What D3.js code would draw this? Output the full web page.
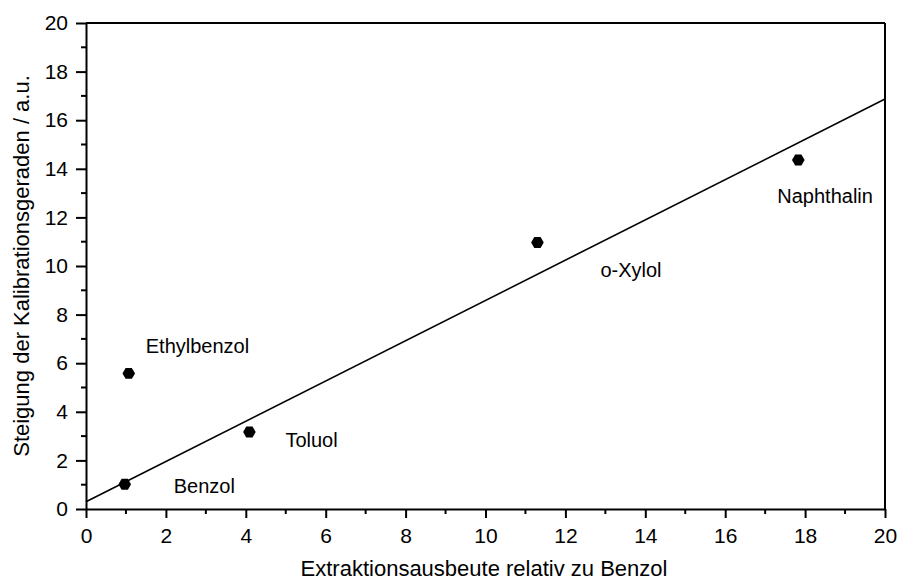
<!DOCTYPE html>
<html>
<head>
<meta charset="utf-8">
<script src="https://cdn.jsdelivr.net/npm/d3@7"></script>
<style>
  html, body { margin: 0; padding: 0; background: #fff; }
  svg { display: block; font-family: "Liberation Sans", Arial, sans-serif; }
</style>
</head>
<body>
<svg id="chart" width="897" height="582"></svg>
<script>
// ---- data ----
const compounds = ["Benzol", "Ethylbenzol", "Toluol", "o-Xylol", "Naphthalin"];
const extraction = [0.97, 1.07, 4.09, 11.3, 17.83];
const slope = [1.02, 5.58, 3.17, 10.97, 14.36];
const fitX = [0, 20];
const fitY = [0.3, 16.87];
const xTicks = [0, 2, 4, 6, 8, 10, 12, 14, 16, 18, 20];
const yTicks = [0, 2, 4, 6, 8, 10, 12, 14, 16, 18, 20];
const xTitle = "Extraktionsausbeute relativ zu Benzol";
const yTitle = "Steigung der Kalibrationsgeraden / a.u.";

// label placement offsets (pixels, relative to point)
const labelOffsets = {
  "Benzol": [49, 9],
  "Ethylbenzol": [17, -20],
  "Toluol": [36, 15],
  "o-Xylol": [63, 35],
  "Naphthalin": [-21, 43]
};

const svg = d3.select("#chart");
const mLeft = 86, mRight = 885, mTop = 23, mBottom = 509;

const x = d3.scaleLinear().domain([0, 20]).range([mLeft, mRight]);
const y = d3.scaleLinear().domain([0, 20]).range([mBottom, mTop]);

const fs = 21;

// frame top/right
svg.append("line").attr("x1", mLeft).attr("x2", mRight).attr("y1", mTop).attr("y2", mTop)
  .attr("stroke", "#000").attr("stroke-width", 2);
svg.append("line").attr("x1", mRight).attr("x2", mRight).attr("y1", mTop).attr("y2", mBottom)
  .attr("stroke", "#000").attr("stroke-width", 2);

// x axis
const gx = svg.append("g").attr("transform", `translate(0,${mBottom})`)
  .call(d3.axisBottom(x).tickValues(xTicks).tickFormat(d3.format("d")).tickSize(9).tickPadding(10).tickSizeOuter(0));
gx.append("g").selectAll("line").data(d3.range(1, 20, 2)).join("line")
  .attr("x1", d => x(d)).attr("x2", d => x(d)).attr("y1", 0).attr("y2", 5)
  .attr("stroke", "#000").attr("stroke-width", 2);

// y axis
const gy = svg.append("g").attr("transform", `translate(${mLeft},0)`)
  .call(d3.axisLeft(y).tickValues(yTicks).tickFormat(d3.format("d")).tickSize(10).tickPadding(8).tickSizeOuter(0));
gy.append("g").selectAll("line").data(d3.range(1, 20, 2)).join("line")
  .attr("y1", d => y(d)).attr("y2", d => y(d)).attr("x1", 0).attr("x2", -5)
  .attr("stroke", "#000").attr("stroke-width", 2);

[gx, gy].forEach(g => {
  g.select(".domain").attr("stroke-width", 2);
  g.selectAll(".tick line").attr("stroke-width", 2);
  g.selectAll("text").attr("font-size", fs).attr("font-family", "Liberation Sans, Arial, sans-serif").attr("fill", "#000");
});

// fit line
svg.append("line")
  .attr("x1", x(fitX[0])).attr("y1", y(fitY[0]))
  .attr("x2", x(fitX[1])).attr("y2", y(fitY[1]))
  .attr("stroke", "#000").attr("stroke-width", 1.6);

// hexagon markers
const hexR = 6.3;
const hex = d3.line()(d3.range(6).map(i => {
  const a = Math.PI / 6 + i * Math.PI / 3;
  return [hexR * Math.cos(a), hexR * Math.sin(a)];
})) + "Z";

compounds.forEach((c, i) => {
  svg.append("path").attr("d", hex)
    .attr("transform", `translate(${x(extraction[i])},${y(slope[i])}) rotate(90)`)
    .attr("fill", "#000");
  const o = labelOffsets[c];
  svg.append("text")
    .attr("x", x(extraction[i]) + o[0])
    .attr("y", y(slope[i]) + o[1])
    .attr("font-size", 20)
    .attr("fill", "#000")
    .text(c);
});

// axis titles
svg.append("text")
  .attr("x", 484).attr("y", 576)
  .attr("text-anchor", "middle").attr("font-size", 22).attr("fill", "#000")
  .text(xTitle);
svg.append("text")
  .attr("transform", `translate(29,${(mTop + mBottom) / 2}) rotate(-90)`)
  .attr("text-anchor", "middle").attr("font-size", 22).attr("fill", "#000")
  .text(yTitle);
</script>
</body>
</html>
